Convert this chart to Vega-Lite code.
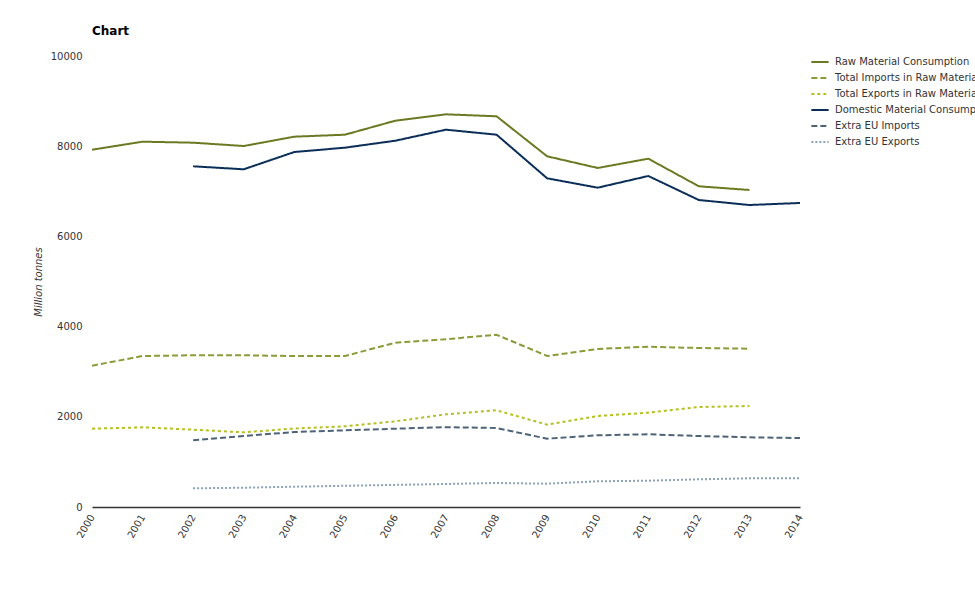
{
  "$schema": "https://vega.github.io/schema/vega-lite/v6.json",
  "autosize": {"type": "none"},
  "width": 708,
  "height": 451,
  "padding": {"left": 92, "top": 56, "right": 175, "bottom": 93},
  "background": "white",
  "title": {"text": "Chart", "anchor": "start", "frame": "group", "font": "DejaVu Sans", "fontSize": 12, "fontWeight": "bold", "color": "#000000", "offset": 13},
  "config": {
    "view": {"stroke": null},
    "font": "DejaVu Sans"
  },
  "data": {"values": [
    {"year": "2000", "series": "Raw Material Consumption", "value": 7922},
    {"year": "2001", "series": "Raw Material Consumption", "value": 8100},
    {"year": "2002", "series": "Raw Material Consumption", "value": 8078},
    {"year": "2003", "series": "Raw Material Consumption", "value": 8004},
    {"year": "2004", "series": "Raw Material Consumption", "value": 8211},
    {"year": "2005", "series": "Raw Material Consumption", "value": 8255},
    {"year": "2006", "series": "Raw Material Consumption", "value": 8566},
    {"year": "2007", "series": "Raw Material Consumption", "value": 8707},
    {"year": "2008", "series": "Raw Material Consumption", "value": 8663},
    {"year": "2009", "series": "Raw Material Consumption", "value": 7776},
    {"year": "2010", "series": "Raw Material Consumption", "value": 7517},
    {"year": "2011", "series": "Raw Material Consumption", "value": 7723},
    {"year": "2012", "series": "Raw Material Consumption", "value": 7111},
    {"year": "2013", "series": "Raw Material Consumption", "value": 7029},

    {"year": "2000", "series": "Total Imports in Raw Material Equivalents", "value": 3133},
    {"year": "2001", "series": "Total Imports in Raw Material Equivalents", "value": 3348},
    {"year": "2002", "series": "Total Imports in Raw Material Equivalents", "value": 3364},
    {"year": "2003", "series": "Total Imports in Raw Material Equivalents", "value": 3364},
    {"year": "2004", "series": "Total Imports in Raw Material Equivalents", "value": 3348},
    {"year": "2005", "series": "Total Imports in Raw Material Equivalents", "value": 3348},
    {"year": "2006", "series": "Total Imports in Raw Material Equivalents", "value": 3643},
    {"year": "2007", "series": "Total Imports in Raw Material Equivalents", "value": 3720},
    {"year": "2008", "series": "Total Imports in Raw Material Equivalents", "value": 3820},
    {"year": "2009", "series": "Total Imports in Raw Material Equivalents", "value": 3348},
    {"year": "2010", "series": "Total Imports in Raw Material Equivalents", "value": 3503},
    {"year": "2011", "series": "Total Imports in Raw Material Equivalents", "value": 3555},
    {"year": "2012", "series": "Total Imports in Raw Material Equivalents", "value": 3525},
    {"year": "2013", "series": "Total Imports in Raw Material Equivalents", "value": 3510},

    {"year": "2000", "series": "Total Exports in Raw Material Equivalents", "value": 1736},
    {"year": "2001", "series": "Total Exports in Raw Material Equivalents", "value": 1767},
    {"year": "2002", "series": "Total Exports in Raw Material Equivalents", "value": 1714},
    {"year": "2003", "series": "Total Exports in Raw Material Equivalents", "value": 1655},
    {"year": "2004", "series": "Total Exports in Raw Material Equivalents", "value": 1740},
    {"year": "2005", "series": "Total Exports in Raw Material Equivalents", "value": 1789},
    {"year": "2006", "series": "Total Exports in Raw Material Equivalents", "value": 1900},
    {"year": "2007", "series": "Total Exports in Raw Material Equivalents", "value": 2055},
    {"year": "2008", "series": "Total Exports in Raw Material Equivalents", "value": 2144},
    {"year": "2009", "series": "Total Exports in Raw Material Equivalents", "value": 1825},
    {"year": "2010", "series": "Total Exports in Raw Material Equivalents", "value": 2018},
    {"year": "2011", "series": "Total Exports in Raw Material Equivalents", "value": 2091},
    {"year": "2012", "series": "Total Exports in Raw Material Equivalents", "value": 2217},
    {"year": "2013", "series": "Total Exports in Raw Material Equivalents", "value": 2239},

    {"year": "2002", "series": "Domestic Material Consumption", "value": 7554},
    {"year": "2003", "series": "Domestic Material Consumption", "value": 7488},
    {"year": "2004", "series": "Domestic Material Consumption", "value": 7871},
    {"year": "2005", "series": "Domestic Material Consumption", "value": 7967},
    {"year": "2006", "series": "Domestic Material Consumption", "value": 8122},
    {"year": "2007", "series": "Domestic Material Consumption", "value": 8366},
    {"year": "2008", "series": "Domestic Material Consumption", "value": 8255},
    {"year": "2009", "series": "Domestic Material Consumption", "value": 7288},
    {"year": "2010", "series": "Domestic Material Consumption", "value": 7080},
    {"year": "2011", "series": "Domestic Material Consumption", "value": 7339},
    {"year": "2012", "series": "Domestic Material Consumption", "value": 6807},
    {"year": "2013", "series": "Domestic Material Consumption", "value": 6696},
    {"year": "2014", "series": "Domestic Material Consumption", "value": 6741},

    {"year": "2002", "series": "Extra EU Imports", "value": 1479},
    {"year": "2003", "series": "Extra EU Imports", "value": 1574},
    {"year": "2004", "series": "Extra EU Imports", "value": 1663},
    {"year": "2005", "series": "Extra EU Imports", "value": 1700},
    {"year": "2006", "series": "Extra EU Imports", "value": 1736},
    {"year": "2007", "series": "Extra EU Imports", "value": 1770},
    {"year": "2008", "series": "Extra EU Imports", "value": 1752},
    {"year": "2009", "series": "Extra EU Imports", "value": 1515},
    {"year": "2010", "series": "Extra EU Imports", "value": 1590},
    {"year": "2011", "series": "Extra EU Imports", "value": 1612},
    {"year": "2012", "series": "Extra EU Imports", "value": 1574},
    {"year": "2013", "series": "Extra EU Imports", "value": 1545},
    {"year": "2014", "series": "Extra EU Imports", "value": 1530},

    {"year": "2002", "series": "Extra EU Exports", "value": 414},
    {"year": "2003", "series": "Extra EU Exports", "value": 428},
    {"year": "2004", "series": "Extra EU Exports", "value": 450},
    {"year": "2005", "series": "Extra EU Exports", "value": 470},
    {"year": "2006", "series": "Extra EU Exports", "value": 490},
    {"year": "2007", "series": "Extra EU Exports", "value": 510},
    {"year": "2008", "series": "Extra EU Exports", "value": 532},
    {"year": "2009", "series": "Extra EU Exports", "value": 517},
    {"year": "2010", "series": "Extra EU Exports", "value": 570},
    {"year": "2011", "series": "Extra EU Exports", "value": 583},
    {"year": "2012", "series": "Extra EU Exports", "value": 614},
    {"year": "2013", "series": "Extra EU Exports", "value": 636},
    {"year": "2014", "series": "Extra EU Exports", "value": 636}
  ]},
  "mark": {"type": "line", "strokeWidth": 2},
  "encoding": {
    "x": {
      "field": "year", "type": "ordinal",
      "scale": {"type": "point", "padding": 0},
      "axis": {
        "title": null, "labelAngle": -60, "labelAlign": "right", "labelBaseline": "middle",
        "labelFont": "DejaVu Sans", "labelFontSize": 10, "labelColor": "#333333",
        "domainColor": "#333333", "domainWidth": 1.5, "ticks": false, "labelPadding": 8, "grid": false
      }
    },
    "y": {
      "field": "value", "type": "quantitative",
      "scale": {"domain": [0, 10000], "nice": false},
      "axis": {
        "title": "Million tonnes", "titleFont": "DejaVu Sans", "titleFontSize": 10, "titleFontStyle": "italic",
        "titleFontWeight": "normal", "titleColor": "#333333", "titlePadding": 7,
        "values": [0, 2000, 4000, 6000, 8000, 10000], "format": "d",
        "labelFont": "DejaVu Sans", "labelFontSize": 10, "labelColor": "#333333",
        "domain": false, "ticks": false, "grid": false, "labelPadding": 10
      }
    },
    "color": {
      "field": "series", "type": "nominal",
      "scale": {
        "domain": ["Raw Material Consumption", "Total Imports in Raw Material Equivalents", "Total Exports in Raw Material Equivalents", "Domestic Material Consumption", "Extra EU Imports", "Extra EU Exports"],
        "range": ["#6b7a22", "#8a9c3a", "#b3c11f", "#0b2e59", "#4d6478", "#8aa1ba"]
      },
      "legend": {
        "title": null, "orient": "none", "legendX": 718, "legendY": -4, "padding": 0,
        "symbolType": "stroke", "symbolSize": 300, "symbolStrokeWidth": 2,
        "labelFont": "DejaVu Sans", "labelFontSize": 10, "labelColor": "#333333",
        "rowPadding": 1, "labelOffset": 5, "labelLimit": 400
      }
    },
    "strokeDash": {
      "field": "series", "type": "nominal",
      "scale": {
        "domain": ["Raw Material Consumption", "Total Imports in Raw Material Equivalents", "Total Exports in Raw Material Equivalents", "Domestic Material Consumption", "Extra EU Imports", "Extra EU Exports"],
        "range": [[1, 0], [6, 3], [3, 3], [1, 0], [6, 3], [2, 2]]
      },
      "legend": {
        "title": null, "orient": "none", "legendX": 718, "legendY": -4, "padding": 0,
        "symbolType": "stroke", "symbolSize": 300, "symbolStrokeWidth": 2,
        "labelFont": "DejaVu Sans", "labelFontSize": 10, "labelColor": "#333333",
        "rowPadding": 1, "labelOffset": 5, "labelLimit": 400
      }
    }
  }
}
